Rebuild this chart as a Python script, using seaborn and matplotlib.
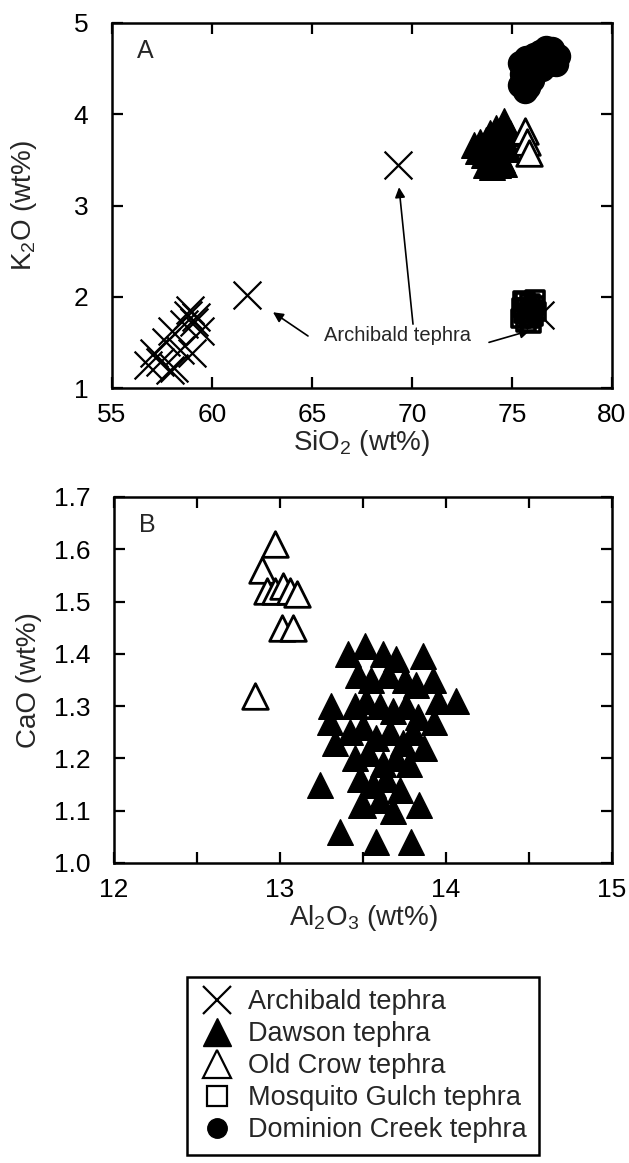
import matplotlib
matplotlib.use("Agg")
import matplotlib.pyplot as plt
from matplotlib.lines import Line2D
from matplotlib.ticker import MultipleLocator, FormatStrFormatter
import seaborn as sns

# ---------------- Panel A: SiO2 vs K2O (wt%) ----------------
arch_sio2 = [56.8, 57.1, 57.4, 57.7, 58.1, 58.0, 58.4, 58.6, 58.9, 59.0, 59.2, 59.4,
             58.8, 59.1, 57.9, 61.75, 69.3, 76.4]
arch_k2o = [1.25, 1.38, 1.28, 1.50, 1.22, 1.62, 1.42, 1.70, 1.85, 1.38, 1.78, 1.62,
            1.80, 1.72, 1.20, 2.02, 3.44, 1.80]

dawson_a_sio2 = [74.6, 74.2, 73.9, 73.1, 73.4, 73.7, 74.0, 74.3, 74.6, 74.8,
                 73.6, 73.9, 74.2, 74.5, 73.7, 74.0, 74.3, 74.6, 73.8, 74.4,
                 73.3, 74.9]
dawson_a_k2o = [3.93, 3.85, 3.80, 3.66, 3.70, 3.72, 3.68, 3.70, 3.75, 3.62,
                3.55, 3.52, 3.55, 3.50, 3.44, 3.42, 3.44, 3.46, 3.60, 3.62,
                3.60, 3.80]

oldcrow_a_sio2 = [75.65, 75.75, 75.85]
oldcrow_a_k2o = [3.82, 3.70, 3.58]

mosquito_sio2 = [75.45, 75.5, 75.65, 75.8, 75.9, 76.05, 76.1, 75.7, 75.6, 75.95,
                 76.2, 75.55, 75.75, 76.0, 75.85, 76.15]
mosquito_k2o = [1.76, 1.88, 1.95, 1.82, 1.93, 1.78, 1.90, 1.72, 1.82, 1.71,
                1.84, 1.96, 1.88, 1.86, 1.76, 1.97]

dominion_sio2 = [75.4, 75.5, 75.4, 75.7, 75.9, 76.0, 75.8, 76.2, 76.4, 76.7,
                 77.0, 77.3, 76.9, 76.5, 75.65, 76.1, 77.2, 76.6]
dominion_k2o = [4.32, 4.44, 4.56, 4.62, 4.50, 4.38, 4.30, 4.55, 4.68, 4.73,
                4.72, 4.64, 4.55, 4.50, 4.26, 4.65, 4.55, 4.62]

# ---------------- Panel B: Al2O3 vs CaO (wt%) ----------------
dawson_b_al2o3 = [13.24, 13.36, 13.58, 13.79, 13.84, 14.06, 13.31, 13.33, 13.30,
                  13.41, 13.51, 13.62, 13.70, 13.86, 13.92, 13.95, 13.93, 13.87,
                  13.47, 13.55, 13.65, 13.75, 13.82, 13.45, 13.52, 13.60, 13.68,
                  13.76, 13.83, 13.42, 13.50, 13.58, 13.66, 13.74, 13.80, 13.45,
                  13.53, 13.62, 13.70, 13.78, 13.48, 13.56, 13.64, 13.72, 13.50,
                  13.60, 13.68, 13.49]
dawson_b_cao = [1.15, 1.06, 1.04, 1.04, 1.11, 1.31, 1.30, 1.23, 1.27,
                1.40, 1.415, 1.40, 1.39, 1.395, 1.35, 1.31, 1.27, 1.22,
                1.36, 1.35, 1.36, 1.35, 1.34, 1.30, 1.31, 1.30, 1.29,
                1.30, 1.28, 1.25, 1.26, 1.24, 1.25, 1.23, 1.25, 1.20,
                1.21, 1.19, 1.20, 1.19, 1.16, 1.15, 1.16, 1.14, 1.11,
                1.12, 1.10, 1.11]

oldcrow_b_al2o3 = [12.97, 12.89, 12.92, 12.97, 13.02, 13.06, 13.10, 13.01, 13.08, 12.85]
oldcrow_b_cao = [1.61, 1.56, 1.52, 1.52, 1.53, 1.52, 1.515, 1.45, 1.45, 1.32]

legend_labels = ["Archibald tephra", "Dawson tephra", "Old Crow tephra",
                 "Mosquito Gulch tephra", "Dominion Creek tephra"]

# ---------------- Style ----------------
sns.set_style("ticks")
plt.rcParams["font.family"] = ["Liberation Sans", "DejaVu Sans"]
plt.rcParams["mathtext.fontset"] = "custom"
plt.rcParams["mathtext.rm"] = "Liberation Sans"
plt.rcParams["mathtext.it"] = "Liberation Sans:italic"
plt.rcParams["mathtext.bf"] = "Liberation Sans:bold"

TICK_FS = 19
LABEL_FS = 20
X_S = 400       # cross marker area
TRI_S = 340     # triangle marker area
LW = 1.6

fig = plt.figure(figsize=(6.29, 11.63), dpi=100)
axA = fig.add_axes([112 / 629, 1 - 388 / 1163, 500 / 629, 365 / 1163])
axB = fig.add_axes([114 / 629, 1 - 863 / 1163, 498 / 629, 366 / 1163])


def style_axes(ax):
    for sp in ax.spines.values():
        sp.set_visible(True)
        sp.set_linewidth(1.8)
        sp.set_color("black")
    ax.tick_params(which="both", direction="in", length=8, width=1.6,
                   top=True, right=True, labelsize=TICK_FS, colors="black")
    ax.tick_params(axis="x", which="both", pad=11)
    ax.tick_params(axis="y", which="both", pad=17)
    ax.set_facecolor("white")


# Panel A scatter layers
sns.scatterplot(x=dominion_sio2, y=dominion_k2o, marker="o", s=300,
                color="black", edgecolor="black", linewidth=1, ax=axA, legend=False)
sns.scatterplot(x=dawson_a_sio2, y=dawson_a_k2o, marker="^", s=TRI_S,
                color="black", edgecolor="black", linewidth=1, ax=axA, legend=False)
sns.scatterplot(x=oldcrow_a_sio2, y=oldcrow_a_k2o, marker="^", s=TRI_S,
                color="white", edgecolor="black", linewidth=2, ax=axA, legend=False)
sns.scatterplot(x=mosquito_sio2, y=mosquito_k2o, marker="s", s=150,
                facecolors="none", edgecolor="black", linewidth=2.6, ax=axA, legend=False)
sns.scatterplot(x=arch_sio2, y=arch_k2o, marker="x", s=X_S,
                color="black", linewidth=LW, ax=axA, legend=False)

axA.set_xlim(55, 80)
axA.set_ylim(1, 5)
axA.xaxis.set_major_locator(MultipleLocator(5))
axA.yaxis.set_major_locator(MultipleLocator(1))
style_axes(axA)
axA.set_xlabel("SiO$_2$ (wt%)", fontsize=LABEL_FS)
axA.set_ylabel("K$_2$O (wt%)", fontsize=LABEL_FS)
axA.xaxis.set_label_coords(0.5, -0.11)
axA.yaxis.set_label_coords(-0.145, 0.5)
axA.text(0.05, 0.955, "A", transform=axA.transAxes, fontsize=18,
         ha="left", va="top")

# Archibald tephra callout
axA.text(69.3, 1.58, "Archibald tephra", ha="center", va="center", fontsize=14.5)
arrow = dict(arrowstyle="-|>", color="black", lw=1.2, mutation_scale=15,
             shrinkA=0, shrinkB=0)
axA.annotate("", xy=(63.05, 1.83), xytext=(64.8, 1.57), arrowprops=arrow)
axA.annotate("", xy=(69.35, 3.2), xytext=(70.05, 1.7), arrowprops=arrow)
axA.annotate("", xy=(75.9, 1.63), xytext=(73.85, 1.5), arrowprops=arrow)

# Panel B scatter layers
sns.scatterplot(x=dawson_b_al2o3, y=dawson_b_cao, marker="^", s=TRI_S,
                color="black", edgecolor="black", linewidth=1, ax=axB, legend=False)
sns.scatterplot(x=oldcrow_b_al2o3, y=oldcrow_b_cao, marker="^", s=TRI_S,
                color="white", edgecolor="black", linewidth=2, ax=axB, legend=False)

axB.set_xlim(12, 15)
axB.set_ylim(1.0, 1.7)
axB.xaxis.set_major_locator(MultipleLocator(1))
axB.xaxis.set_minor_locator(MultipleLocator(0.5))
axB.yaxis.set_major_locator(MultipleLocator(0.1))
axB.yaxis.set_major_formatter(FormatStrFormatter("%.1f"))
style_axes(axB)
axB.set_xlabel("Al$_2$O$_3$ (wt%)", fontsize=LABEL_FS)
axB.set_ylabel("CaO (wt%)", fontsize=LABEL_FS)
axB.xaxis.set_label_coords(0.5, -0.11)
axB.yaxis.set_label_coords(-0.145, 0.5)
axB.text(0.05, 0.955, "B", transform=axB.transAxes, fontsize=18,
         ha="left", va="top")

# Shared legend below both panels
handles = [
    Line2D([], [], ls="none", marker="x", color="black", markersize=20, mew=LW),
    Line2D([], [], ls="none", marker="^", color="black", markersize=20, mew=1),
    Line2D([], [], ls="none", marker="^", markerfacecolor="white",
           markeredgecolor="black", markersize=20, mew=LW),
    Line2D([], [], ls="none", marker="s", markerfacecolor="white",
           markeredgecolor="black", markersize=14, mew=LW),
    Line2D([], [], ls="none", marker="o", color="black", markersize=14),
]
leg = fig.legend(handles, legend_labels, loc="upper left",
                 bbox_to_anchor=(187 / 629, 1 - 977 / 1163), fontsize=19.5,
                 frameon=True, fancybox=False, framealpha=1, edgecolor="black",
                 borderpad=0.45, handlelength=1.3, handletextpad=0.5,
                 labelspacing=0.22, borderaxespad=0)
leg.get_frame().set_linewidth(1.8)

fig.savefig("out.png", dpi=100, facecolor="white")
